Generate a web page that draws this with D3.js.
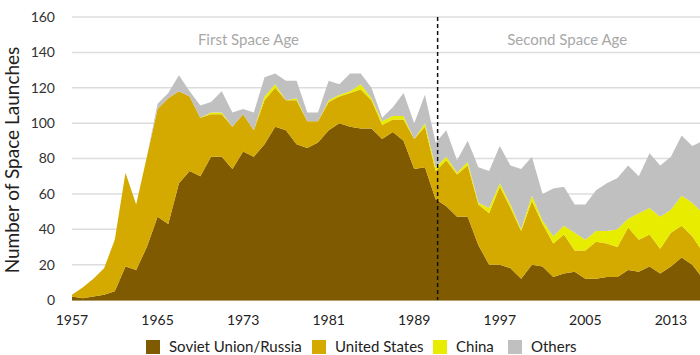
<!DOCTYPE html>
<html>
<head>
<meta charset="utf-8">
<script src="https://cdn.jsdelivr.net/npm/d3@7"></script>
<style>
  html, body { margin: 0; padding: 0; background: #fff; }
  svg { display: block; }
  text { font-family: Lato, "Open Sans", sans-serif; }
</style>
</head>
<body>
<svg id="chart" width="700" height="355"></svg>
<script>
const years = d3.range(1957, 2017);
const soviet = [2,1,2,3,5,19,17,30,47,43,66,73,70,81,81,74,84,81,88,98,96,88,86,89,96,100,98,97,97,91,95,90,74,75,57,53,47,47,31,20,20,18,12,20,19,13,15,16,12,12,13,13,17,16,19,15,19,24,20,12];
const unitedStates = [1,6,10,15,29,53,37,51,61,71,52,42,33,24,24,24,21,15,25,22,17,25,15,12,16,15,19,22,16,8,7,12,17,23,16,26,24,29,23,29,44,34,27,36,24,19,22,12,16,21,19,17,24,18,18,14,19,18,16,15];
const china = [0,0,0,0,0,0,0,0,0,0,0,0,0,1,1,0,0,0,2,2,0,1,0,0,1,1,1,3,1,2,2,2,0,2,2,2,1,2,1,3,2,2,1,3,2,4,5,10,6,6,7,10,5,15,15,18,13,17,19,22];
const others = [0,0,0,0,0,0,0,0,3,3,9,3,7,6,12,8,3,10,11,6,11,10,5,5,11,6,10,6,6,2,5,13,9,16,14,15,7,12,20,21,21,22,34,22,15,27,22,16,20,23,27,29,30,21,31,29,30,34,32,41];
const seriesNames = ["Soviet Union/Russia", "United States", "China", "Others"];
const seriesColors = ["#7f5a00", "#d4aa00", "#e8ed00", "#c0c0c0"];
const yTicks = [0, 20, 40, 60, 80, 100, 120, 140, 160];
const xTicks = [1957, 1965, 1973, 1981, 1989, 1997, 2005, 2013];
const eraSplitYear = 1991;
const eraLabels = [{label: "First Space Age", year: 1973.5}, {label: "Second Space Age", year: 2003.3}];

const keys = ["soviet", "us", "china", "others"];
const table = years.map((y, i) => ({year: y, soviet: soviet[i], us: unitedStates[i], china: china[i], others: others[i]}));

const svg = d3.select("#chart");
const x = d3.scaleLinear().domain([1957, 2016]).range([72, 703]);
const y = d3.scaleLinear().domain([0, 160]).range([300, 17]);

svg.append("defs").append("clipPath").attr("id", "clip")
  .append("rect").attr("x", 72).attr("y", 0).attr("width", 628).attr("height", 301);

// gridlines
svg.append("g").selectAll("line").data(yTicks).join("line")
  .attr("x1", 72).attr("x2", 700)
  .attr("y1", d => y(d)).attr("y2", d => y(d))
  .attr("stroke", "#dcdcdc").attr("stroke-width", 1.5);

// y tick labels
svg.append("g").selectAll("text").data(yTicks).join("text")
  .attr("x", 55).attr("y", d => y(d)).attr("dy", "0.35em")
  .attr("text-anchor", "end").attr("font-size", 14).attr("fill", "#333")
  .text(d => d);

// stacked areas
const stack = d3.stack().keys(keys);
const layers = stack(table);
const area = d3.area()
  .x(d => x(d.data.year))
  .y0(d => y(d[0]))
  .y1(d => y(d[1]));
svg.append("g").attr("clip-path", "url(#clip)")
  .selectAll("path").data(layers).join("path")
  .attr("d", area)
  .attr("fill", (d, i) => seriesColors[i]);

// baseline
svg.append("line").attr("x1", 72).attr("x2", 700).attr("y1", y(0)).attr("y2", y(0))
  .attr("stroke", "#7f5a00").attr("stroke-width", 1);

// dashed era line
svg.append("line")
  .attr("x1", x(eraSplitYear) + 2).attr("x2", x(eraSplitYear) + 2)
  .attr("y1", y(160)).attr("y2", y(0))
  .attr("stroke", "#111").attr("stroke-width", 1.5).attr("stroke-dasharray", "4,3");

// era labels
svg.append("g").selectAll("text").data(eraLabels).join("text")
  .attr("x", d => x(d.year)).attr("y", 40).attr("dy", "0.35em")
  .attr("text-anchor", "middle").attr("font-size", 15).attr("fill", "#a8a8a8")
  .text(d => d.label);

// x tick labels
svg.append("g").selectAll("text").data(xTicks).join("text")
  .attr("x", d => x(d)).attr("y", 320).attr("dy", "0.35em")
  .attr("text-anchor", "middle").attr("font-size", 14).attr("fill", "#222")
  .text(d => d);

// y axis title
svg.append("text")
  .attr("transform", "translate(12,160) rotate(-90)")
  .attr("dy", "0.35em").attr("text-anchor", "middle")
  .attr("font-size", 19).attr("fill", "#222")
  .text("Number of Space Launches");

// legend
const legendX = [146, 312, 433, 508];
const lg = svg.append("g").selectAll("g").data(seriesNames).join("g")
  .attr("transform", (d, i) => `translate(${legendX[i]},340)`);
lg.append("rect").attr("width", 14).attr("height", 14).attr("fill", (d, i) => seriesColors[i]);
lg.append("text").attr("x", 23).attr("y", 7).attr("dy", "0.35em")
  .attr("font-size", 15).attr("fill", "#222").text(d => d);
</script>
</body>
</html>
